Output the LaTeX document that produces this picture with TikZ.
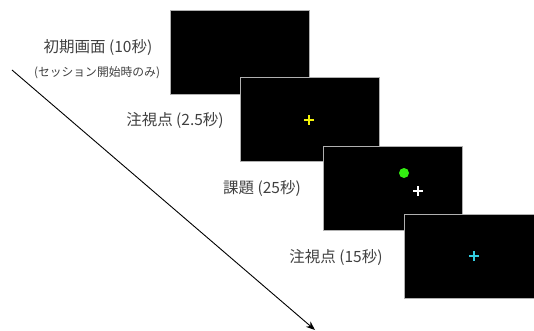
\documentclass[tikz,border=0pt]{standalone}
\usepackage{fontspec}
\setmainfont{Noto Sans CJK JP}
\usetikzlibrary{arrows.meta}
\definecolor{txt}{HTML}{404040}
\definecolor{edge}{HTML}{B0B0B0}
\definecolor{ycross}{HTML}{F2F20A}
\definecolor{gdot}{HTML}{33EE11}
\definecolor{ccross}{HTML}{33CCE0}
\begin{document}
\begin{tikzpicture}[x=1pt,y=-1pt,
  screen/.style={draw=edge,line width=0.8pt,fill=black,minimum width=139pt,minimum height=84pt,inner sep=0pt,anchor=north west},
  lbl/.style={text=txt,font=\fontsize{15.5}{17}\selectfont,inner sep=0pt},
  sublbl/.style={text=txt,font=\fontsize{11.8}{13}\selectfont,inner sep=0pt},
  crossline/.style={line width=1.4pt}]
\useasboundingbox (0,0) rectangle (534,331);
\node[screen] (s1) at (170,10) {};
\node[screen] (s2) at (240,77) {};
\node[screen] (s3) at (323,146) {};
\node[screen] (s4) at (404,214) {};
% stimuli
\coordinate (c2) at (309,120);
\draw[crossline,ycross] ([xshift=-5pt]c2) -- ([xshift=5pt]c2) ([yshift=-5pt]c2) -- ([yshift=5pt]c2);
\node[circle,fill=gdot,minimum size=10pt,inner sep=0pt] (dot) at (404,173) {};
\coordinate (c3) at (418,191);
\draw[crossline,white] ([xshift=-5pt]c3) -- ([xshift=5pt]c3) ([yshift=-5pt]c3) -- ([yshift=5pt]c3);
\coordinate (c4) at (474,256);
\draw[crossline,ccross] ([xshift=-5pt]c4) -- ([xshift=5pt]c4) ([yshift=-5pt]c4) -- ([yshift=5pt]c4);
% labels
\node[lbl] (l1) at (98,48) {初期画面 (10秒)};
\node[sublbl] (l1b) at (97,73) {(セッション開始時のみ)};
\node[lbl] (l2) at (175,120) {注視点 (2.5秒)};
\node[lbl] (l3) at (262,189) {課題 (25秒)};
\node[lbl] (l4) at (336,257) {注視点 (15秒)};
% time arrow
\coordinate (a0) at (12,70);
\coordinate (a1) at (315,330);
\draw[line width=0.9pt,-{Stealth[length=9pt,width=7pt]}] (a0) -- (a1);
\end{tikzpicture}
\end{document}
